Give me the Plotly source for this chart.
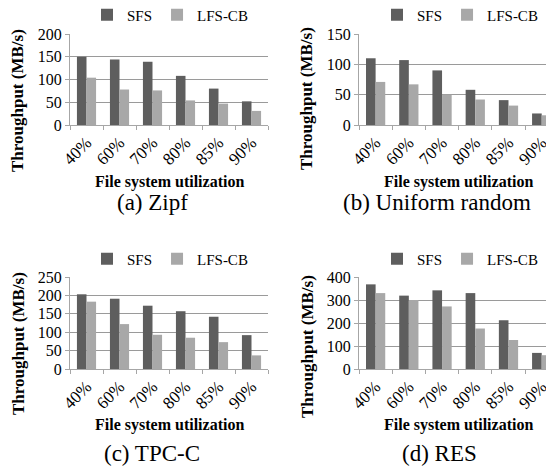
import plotly.graph_objects as go

# The page body adds an 8px margin; figure size is reduced so that the
# screen coordinates match the 554x471 window.
OFF = 8
W, H = 554 - OFF, 471 - OFF

categories = ["40%", "60%", "70%", "80%", "85%", "90%"]
series_names = ["SFS", "LFS-CB"]

zipf_sfs = [150, 144, 139, 108, 80, 52]
zipf_lfs = [104, 78, 76, 54, 47, 31]

uniform_sfs = [110, 107, 90, 58, 41, 19]
uniform_lfs = [71, 67, 50, 42, 32, 16]

tpcc_sfs = [203, 191, 172, 157, 142, 92]
tpcc_lfs = [183, 122, 93, 85, 73, 37]

res_sfs = [368, 319, 342, 330, 212, 70]
res_lfs = [330, 300, 272, 176, 126, 60]

captions = ["(a) Zipf", "(b) Uniform random", "(c) TPC-C", "(d) RES"]
y_ranges = [[0, 200], [0, 150], [0, 250], [0, 400]]
y_dticks = [50, 50, 50, 100]

FONT = "Liberation Serif, Times New Roman, Times, serif"
DARK = "#5e5e5e"
LIGHT = "#a8a8a8"
GRID = "#9a9a9a"
AXIS = "#a6a6a6"

def px_x(v):
    return (v - OFF) / W

def px_y(v):
    return 1 - (v - OFF) / H

# panel geometry (screen pixels)
panels = [
    dict(x0=70, x1=268, top=34, zero=125, xr=[-0.5, 5.5], data=(zipf_sfs, zipf_lfs)),
    dict(x0=359, x1=554, top=34, zero=125, xr=[-0.5, 5.37], data=(uniform_sfs, uniform_lfs)),
    dict(x0=70, x1=268, top=277, zero=369, xr=[-0.5, 5.5], data=(tpcc_sfs, tpcc_lfs)),
    dict(x0=359, x1=554, top=277, zero=369, xr=[-0.5, 5.37], data=(res_sfs, res_lfs)),
]
legend_x = [87, 377, 87, 377]
legend_y = [15, 15, 259, 259]
xtitle_pos = [(169, 182), (458, 182), (169, 425), (458, 425)]
ytitle_pos = [(18, 101), (307, 99), (18, 344), (307, 347)]
caption_pos = [(152, 203), (437, 202), (152, 453), (439, 453)]

fig = go.Figure()
layout = dict(
    width=W, height=H,
    margin=dict(l=0, r=0, t=0, b=0, autoexpand=False),
    paper_bgcolor="white", plot_bgcolor="white",
    barmode="group", bargap=0.42, bargroupgap=0,
    font=dict(family=FONT, color="black", size=16),
    annotations=[],
)

for i, p in enumerate(panels):
    n = "" if i == 0 else str(i + 1)
    leg = "legend" + n
    s_vals, l_vals = p["data"]
    for name, vals, col in zip(series_names, (s_vals, l_vals), (DARK, LIGHT)):
        fig.add_trace(go.Bar(
            x=categories, y=vals, name=name, marker=dict(color=col, line=dict(width=0)),
            xaxis="x" + n, yaxis="y" + n, legend=leg, offsetgroup=name,
        ))
    layout["xaxis" + n] = dict(
        domain=[px_x(p["x0"]), px_x(p["x1"])], anchor="y" + n,
        type="category", range=p["xr"],
        showline=True, linecolor=AXIS, linewidth=1,
        ticks="outside", tickson="boundaries", ticklen=4, tickcolor=AXIS,
        tickangle=-45, tickfont=dict(family=FONT, size=17, color="black"),
        showgrid=False, zeroline=False, fixedrange=True, automargin=False,
    )
    layout["yaxis" + n] = dict(
        domain=[px_y(p["zero"]), px_y(p["top"])], anchor="x" + n,
        range=y_ranges[i], dtick=y_dticks[i], tick0=0,
        showline=True, linecolor=AXIS, linewidth=1,
        ticks="outside", ticklen=4, tickcolor=AXIS,
        showgrid=True, gridcolor=GRID, gridwidth=1, zeroline=False,
        tickfont=dict(family=FONT, size=16, color="black"),
        fixedrange=True, automargin=False,
    )
    layout[leg] = dict(
        orientation="h", x=px_x(legend_x[i]), y=px_y(legend_y[i]),
        xanchor="left", yanchor="middle",
        font=dict(family=FONT, size=15, color="black"),
        bgcolor="rgba(0,0,0,0)", itemwidth=30,
        tracegroupgap=0,
    )
    layout["annotations"].append(dict(
        text="<b>File system utilization</b>", xref="paper", yref="paper",
        x=px_x(xtitle_pos[i][0]), y=px_y(xtitle_pos[i][1]),
        xanchor="center", yanchor="middle",
        showarrow=False, font=dict(family=FONT, size=16, color="black"),
    ))
    layout["annotations"].append(dict(
        text="<b>Throughput (MB/s)</b>", xref="paper", yref="paper",
        x=px_x(ytitle_pos[i][0]), y=px_y(ytitle_pos[i][1]),
        xanchor="center", yanchor="middle", textangle=-90,
        showarrow=False, font=dict(family=FONT, size=17, color="black"),
    ))
    layout["annotations"].append(dict(
        text=captions[i], xref="paper", yref="paper",
        x=px_x(caption_pos[i][0]), y=px_y(caption_pos[i][1]),
        xanchor="center", yanchor="middle",
        showarrow=False, font=dict(family=FONT, size=23, color="black"),
    ))

fig.update_layout(**layout)
fig.write_html("out.html")
